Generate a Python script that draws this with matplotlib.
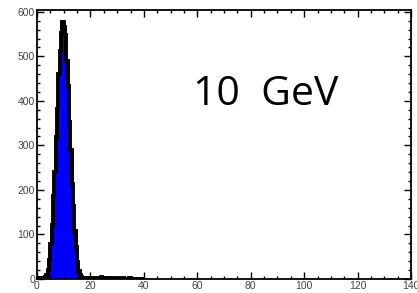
import numpy as np
import matplotlib
matplotlib.use("Agg")
import matplotlib.pyplot as plt
from matplotlib.ticker import MultipleLocator

# histogram: 0.5 wide bins from 0 to 40
bin_edges = np.arange(0, 40.5, 0.5)
counts = [2, 1, 3, 2, 1, 3, 5, 9, 20, 43,
          78, 122, 186, 240, 318, 382, 460, 512, 553, 578,
          566, 547, 489, 434, 352, 290, 214, 163, 108, 72,
          38, 17, 8, 4, 3, 2, 1, 3, 0, 2,
          1, 0, 2, 3, 1, 0, 2, 1, 4, 0,
          1, 2, 0, 1, 3, 0, 2, 1, 0, 1,
          2, 0, 1, 0, 2, 1, 0, 1, 0, 2,
          0, 1, 0, 0, 1, 0, 1, 0, 0, 0]
label = "10  GeV"

fig = plt.figure(figsize=(4.17, 2.93), dpi=100)
ax = fig.add_axes([37 / 417, 14 / 293, 374 / 417, 269 / 293])

ax.stairs(counts, bin_edges, fill=True, color="#0000ff", lw=0)
ax.stairs(counts, bin_edges, color="black", lw=2.8)

ax.set_xlim(0, 140)
ax.set_ylim(0, 604)
ax.xaxis.set_major_locator(MultipleLocator(20))
ax.xaxis.set_minor_locator(MultipleLocator(5))
ax.yaxis.set_major_locator(MultipleLocator(100))
ax.yaxis.set_minor_locator(MultipleLocator(20))
ax.tick_params(which="both", direction="in", top=True, right=True,
               width=1.0, labelsize=7.5, labelcolor="#444444", pad=1.5)
ax.tick_params(which="major", length=5)
ax.tick_params(which="minor", length=2.5)
for t in ax.get_xticklabels() + ax.get_yticklabels():
    t.set_family("Liberation Sans")
for s in ax.spines.values():
    s.set_linewidth(1.3)

ax.text(58.4, 390, label, fontsize=29.5, family="Open Sans",
        ha="left", va="baseline")

fig.savefig("out.png", dpi=100)
